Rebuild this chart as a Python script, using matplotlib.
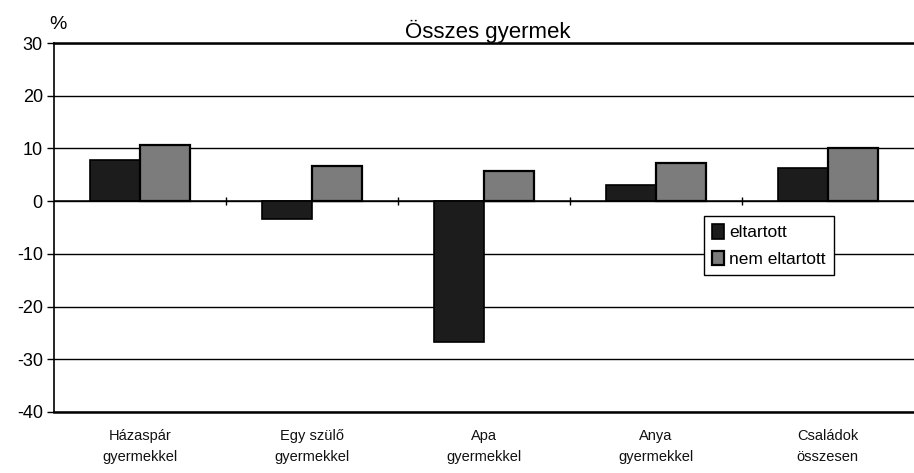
import numpy as np
import matplotlib.pyplot as plt

categories = ["Házaspár\ngyermekkel", "Egy szülő\ngyermekkel", "Apa\ngyermekkel",
              "Anya\ngyermekkel", "Családok\nösszesen"]
eltartott = [7.9, -3.4, -26.7, 3.0, 6.2]
nem_eltartott = [10.7, 6.7, 5.8, 7.2, 10.0]
yticks = [-40, -30, -20, -10, 0, 10, 20, 30]

plt.rcParams['font.family'] = ['Liberation Sans', 'DejaVu Sans']

fig = plt.figure(figsize=(9.14, 4.73), dpi=100)
ax = fig.add_axes([0.059, 0.129, 0.95, 0.78])

x = np.arange(len(categories))
w = 0.29
ax.bar(x - w / 2, eltartott, w, color='#1c1c1c', edgecolor='black', linewidth=1.2,
       label='eltartott', zorder=3)
ax.bar(x + w / 2, nem_eltartott, w, color='#7c7c7c', edgecolor='black', linewidth=1.6,
       label='nem eltartott', zorder=3)

ax.set_xlim(-0.5, len(categories) - 0.5 + 0.05)
ax.set_ylim(-40, 30)
ax.set_yticks(yticks)
ax.set_yticklabels([str(v) for v in yticks], fontsize=13)
ax.yaxis.grid(True, color='black', linewidth=1.0)
ax.set_axisbelow(True)
ax.tick_params(axis='y', length=5, width=1, pad=3)

ax.set_xticks(x)
ax.set_xticklabels(categories, fontsize=10.5, color='#111111',
                   family=['Liberation Sans Narrow', 'Liberation Sans'],
                   linespacing=1.7)
ax.tick_params(axis='x', length=0, pad=12)

# category separator ticks on the zero line
ax.vlines(x[:-1] + 0.5, -0.7, 0.7, color='black', linewidth=1, zorder=2)
ax.axhline(0, color='black', linewidth=1.1, zorder=2)

ax.spines['right'].set_visible(False)
ax.spines['top'].set_linewidth(1.8)
ax.spines['bottom'].set_linewidth(1.8)
ax.spines['left'].set_linewidth(1.2)

ax.set_title('Összes gyermek', fontsize=16, pad=2)
fig.text(0.063, 0.948, '%', fontsize=14, ha='center', va='center')

leg = ax.legend(loc='upper left', bbox_to_anchor=(0.749, 0.53), fontsize=12.5,
                frameon=True, fancybox=False, edgecolor='black', framealpha=1,
                handlelength=0.7, handleheight=0.9, handletextpad=0.3,
                borderpad=0.45, labelspacing=0.6, borderaxespad=0)
leg.get_frame().set_linewidth(1)

fig.savefig('out.png', dpi=100)
